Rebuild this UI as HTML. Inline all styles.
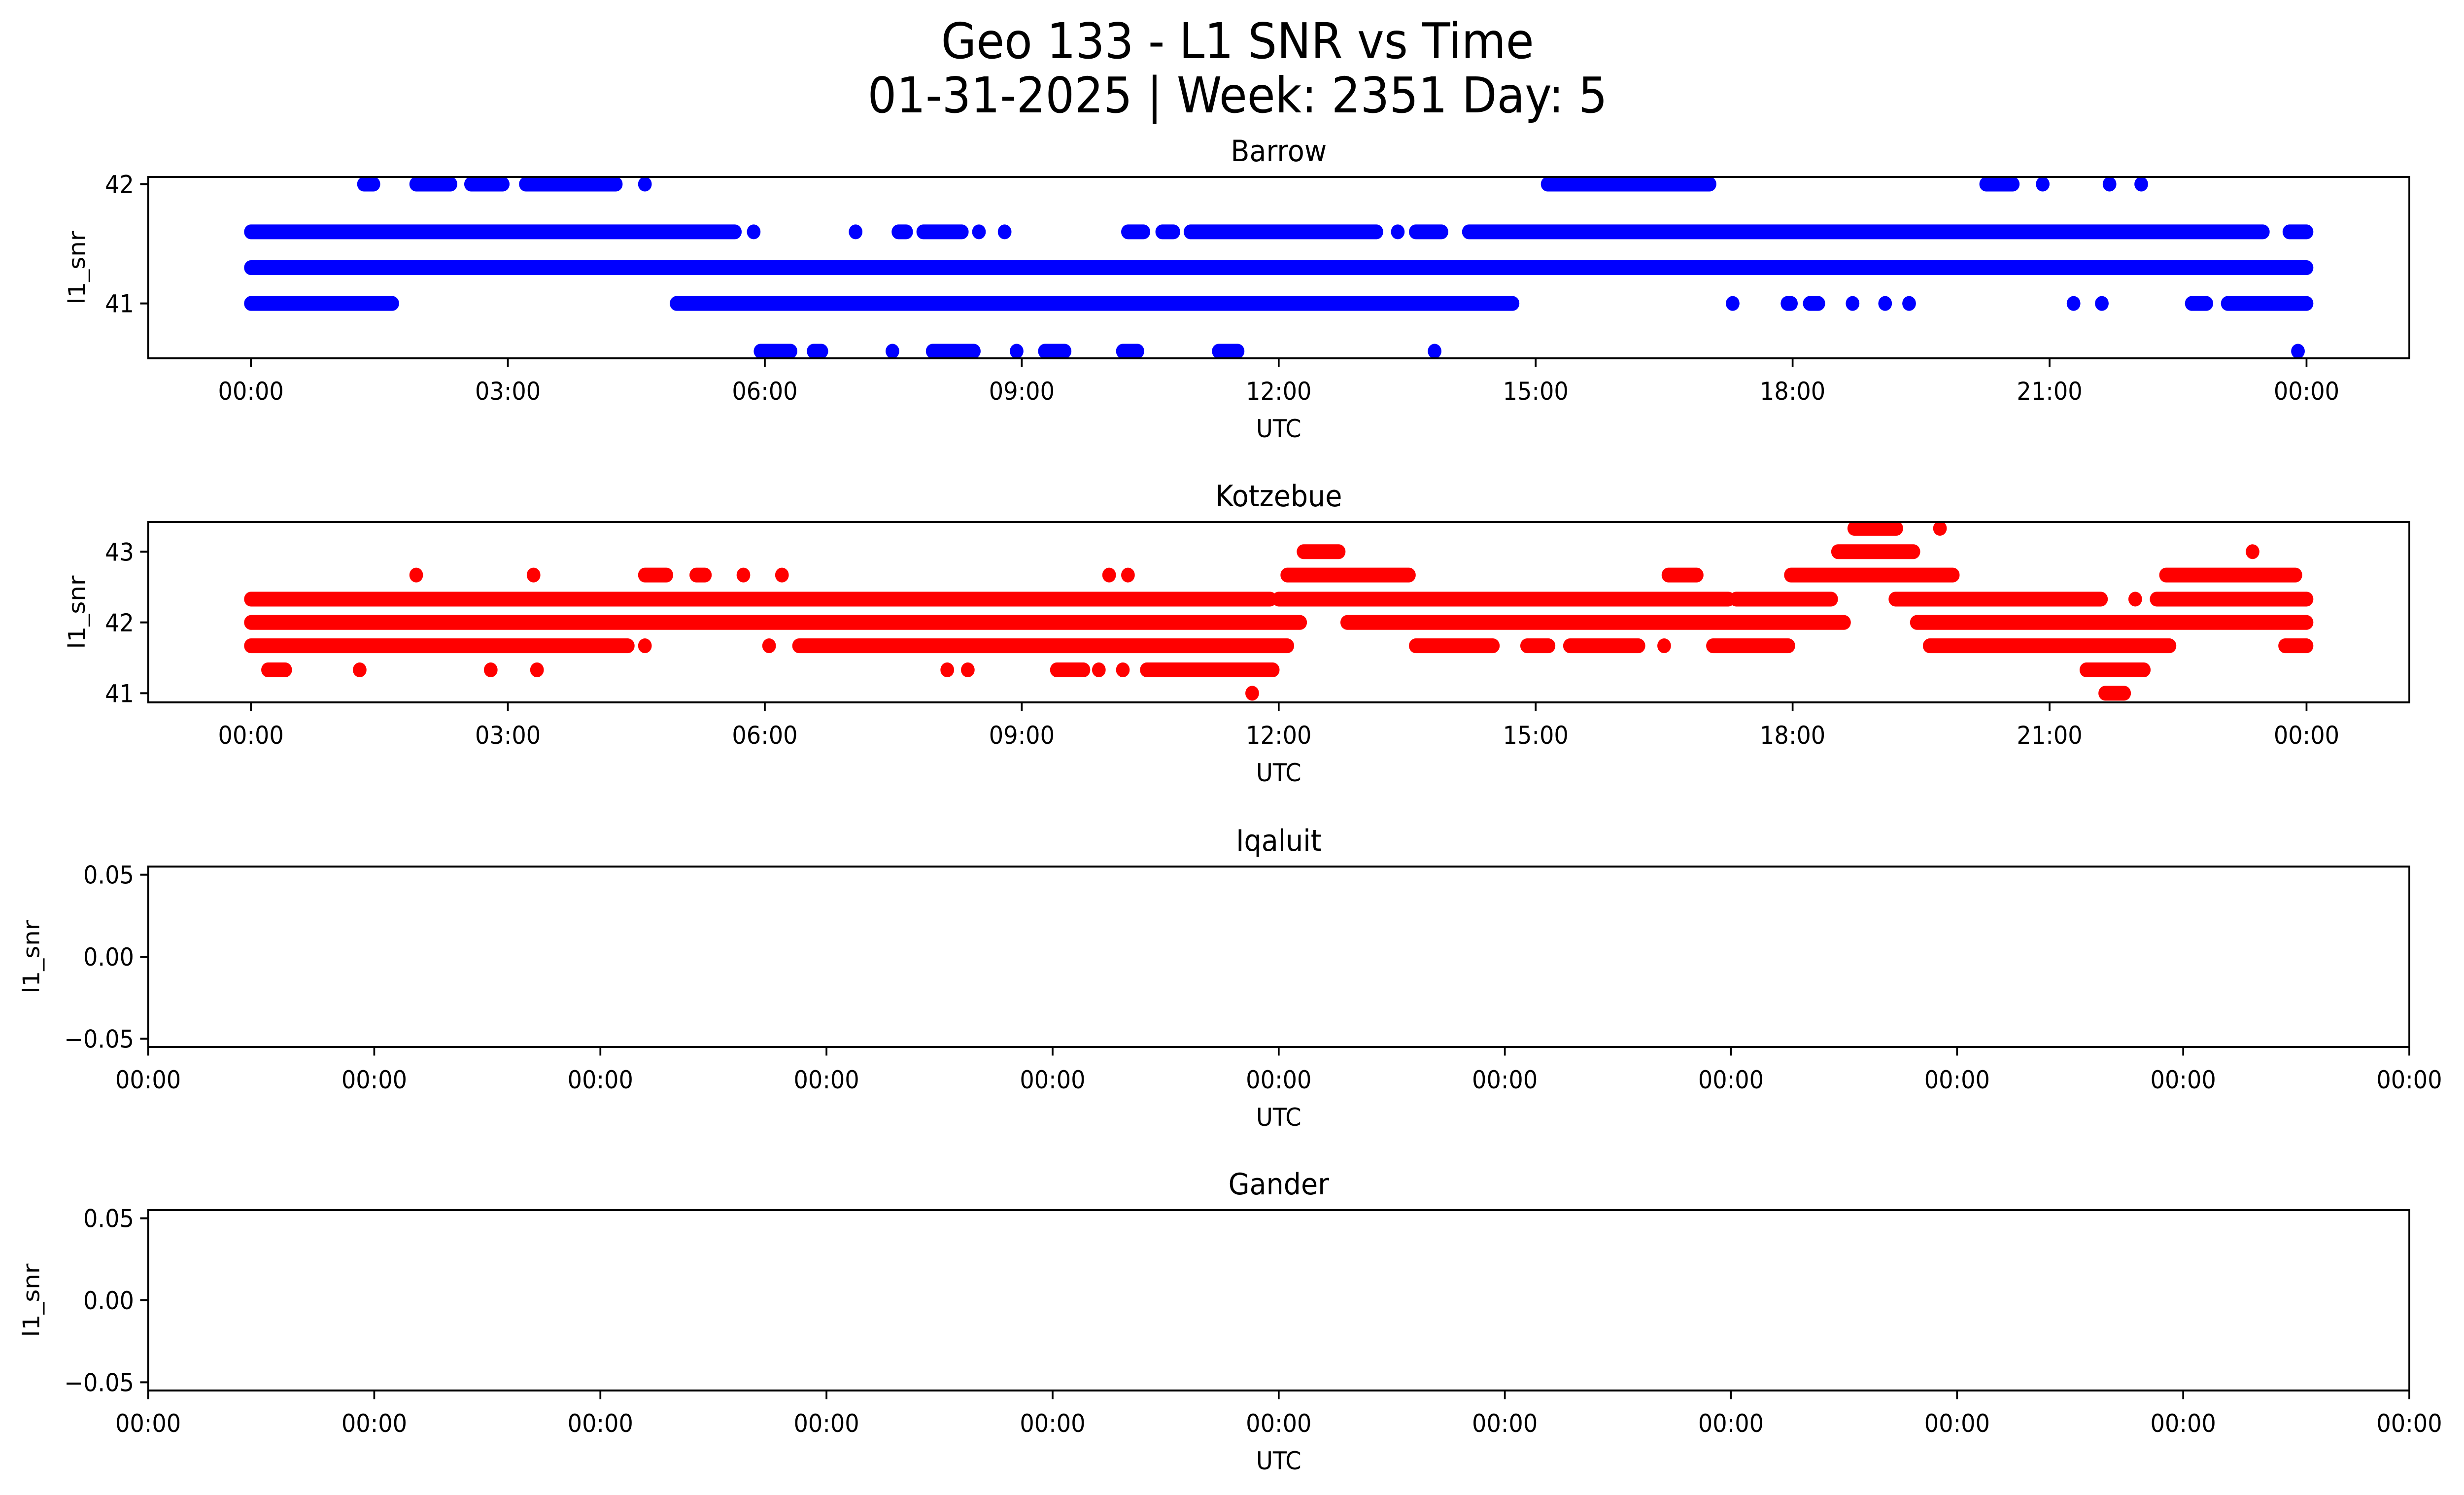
<!DOCTYPE html>
<html><head><meta charset="utf-8"><style>
html,body{margin:0;padding:0;background:#fff;overflow:hidden;width:100vw;height:100vh;}
svg{display:block;position:fixed;left:0;top:0;width:100vw;height:100vh;font-family:"DejaVu Sans","Liberation Sans",sans-serif;}
</style></head><body>
<svg id="fig" viewBox="0 0 5406 3033" preserveAspectRatio="none" xmlns="http://www.w3.org/2000/svg">
<rect width="5406" height="3033" fill="#fff"/>
<text x="2715" y="118" font-size="100" text-anchor="middle">Geo 133 - L1 SNR vs Time</text>
<text x="2715" y="228" font-size="100" text-anchor="middle">01-31-2025 | Week: 2351 Day: 5</text>
</svg>
<script>
// ---- data (hours UTC, runs of consecutive samples [start,end]) ----
const barrowLevels = [42.0, 41.6, 41.3, 41.0, 40.6];
const barrow_42_0 = [[1.32,1.43],[1.93,2.33],[2.57,2.94],[3.21,4.26],[4.6,4.6],[15.14,17.03],[20.26,20.57],[20.92,20.92],[21.7,21.7],[22.07,22.07]];
const barrow_41_6 = [[0,5.65],[5.87,5.87],[7.06,7.06],[7.56,7.65],[7.85,8.3],[8.5,8.5],[8.8,8.8],[10.24,10.42],[10.64,10.77],[10.97,13.14],[13.39,13.39],[13.6,13.9],[14.22,23.49],[23.8,24]];
const barrow_41_3 = [[0,24]];
const barrow_41_0 = [[0,1.65],[4.97,14.73],[17.3,17.3],[17.94,17.98],[18.2,18.3],[18.7,18.7],[19.08,19.08],[19.36,19.36],[21.28,21.28],[21.61,21.61],[22.66,22.83],[23.08,24]];
const barrow_40_6 = [[5.95,6.3],[6.57,6.66],[7.49,7.49],[7.96,8.44],[8.94,8.94],[9.27,9.5],[10.18,10.35],[11.3,11.52],[13.82,13.82],[23.9,23.9]];
const barrowSeries = [barrow_42_0, barrow_41_6, barrow_41_3, barrow_41_0, barrow_40_6];

const kotzLevels = [43.33, 43.0, 42.67, 42.33, 42.0, 41.67, 41.33, 41.0];
const kotz_43_33 = [[18.72,19.21],[19.72,19.72]];
const kotz_43_0 = [[12.29,12.7],[18.53,19.41],[23.37,23.37]];
const kotz_42_67 = [[1.93,1.93],[3.3,3.3],[4.6,4.85],[5.2,5.3],[5.75,5.75],[6.2,6.2],[10.02,10.02],[10.24,10.24],[12.1,13.52],[16.55,16.88],[17.98,19.87],[22.36,23.87]];
const kotz_42_33 = [[0,11.9],[12.0,17.25],[17.34,18.45],[19.2,21.6],[22.0,22.0],[22.25,24]];
const kotz_42_0 = [[0,12.25],[12.8,18.6],[19.45,24]];
const kotz_41_67 = [[0,4.4],[4.6,4.6],[6.05,6.05],[6.4,12.1],[13.6,14.5],[14.9,15.15],[15.4,16.2],[16.5,16.5],[17.07,17.95],[19.6,22.4],[23.75,24]];
const kotz_41_33 = [[0.2,0.4],[1.27,1.27],[2.8,2.8],[3.34,3.34],[8.13,8.13],[8.37,8.37],[9.41,9.72],[9.9,9.9],[10.18,10.18],[10.46,11.93],[21.43,22.1]];
const kotz_41_0 = [[11.69,11.69],[21.65,21.87]];
const kotzSeries = [kotz_43_33, kotz_43_0, kotz_42_67, kotz_42_33, kotz_42_0, kotz_41_67, kotz_41_33, kotz_41_0];

const timeTickHours = [0,3,6,9,12,15,18,21,24];
const timeTickLabels = ["00:00","03:00","06:00","09:00","12:00","15:00","18:00","21:00","00:00"];
const barrowYTicks = [41, 42];
const kotzYTicks = [41, 42, 43];
const emptyYTicks = [-0.05, 0, 0.05];
const emptyYLabels = ["\u22120.05","0.00","0.05"];
const emptyXTicks = [0,0.1,0.2,0.3,0.4,0.5,0.6,0.7,0.8,0.9,1.0];

// ---- layout ----
const NS = "http://www.w3.org/2000/svg";
const svg = document.getElementById('fig');
const L = 325, R = 5286;
const panels = [
  {name:'barrow', title:'Barrow', top:359, bot:727, ymin:40.54, ymax:42.06, color:'#0000ff', levels:barrowLevels, series:barrowSeries, yt:barrowYTicks},
  {name:'kotzebue', title:'Kotzebue', top:1059, bot:1425, ymin:40.87, ymax:43.42, color:'#ff0000', levels:kotzLevels, series:kotzSeries, yt:kotzYTicks},
  {name:'iqaluit', title:'Iqaluit', top:1758, bot:2124, empty:true},
  {name:'gander', title:'Gander', top:2455, bot:2821, empty:true}
];
function el(tag, attrs, parent){
  const e = document.createElementNS(NS, tag);
  for (const k in attrs) e.setAttribute(k, attrs[k]);
  (parent||svg).appendChild(e);
  return e;
}
const tmin = -1.2, tmax = 25.2;
function xScale(h){ return L + (h - tmin) / (tmax - tmin) * (R - L); }

panels.forEach(p => {
  const g = el('g', {});
  
  
  const yS = v => p.empty ? p.bot - (v + 0.055) / 0.11 * (p.bot - p.top) : p.bot - (v - p.ymin) / (p.ymax - p.ymin) * (p.bot - p.top);
  if (!p.empty) {
    const dg = el('g', {}, g);
    
    
    p.series.forEach((runs, i) => {
      const y = yS(p.levels[i]);
      runs.forEach(r => {
        const ln = el('line', {x1:xScale(r[0]), x2:xScale(r[1]), y1:y, y2:y, stroke:p.color, 'stroke-width':30, 'stroke-linecap':'round'}, dg);
        
        
      });
    });
  }
  const fr = el('rect', {x:L, y:p.top, width:R-L, height:p.bot-p.top, fill:'none', stroke:'#000', 'stroke-width':4}, g);
  
  
  const t = el('text', {x:(L+R)/2, y:p.top-32, 'font-size':60, 'text-anchor':'middle'}, g);
  t.textContent = p.title;
  
  
  const yvals = p.empty ? emptyYTicks : p.yt;
  yvals.forEach((v, i) => {
    const y = yS(v);
    el('line', {x1:L-17.5, x2:L, y1:y, y2:y, stroke:'#000', 'stroke-width':4}, g);
    const tl = el('text', {x:L-31, y:y+18, 'font-size':50, 'text-anchor':'end'}, g);
    tl.textContent = p.empty ? emptyYLabels[i] : String(v);
    
    
  });
  if (p.empty) {
    emptyXTicks.forEach(f => {
      const x = L + f * (R - L);
      el('line', {x1:x, x2:x, y1:p.bot, y2:p.bot+17.5, stroke:'#000', 'stroke-width':4}, g);
      const tl = el('text', {x:x, y:p.bot+84, 'font-size':50, 'text-anchor':'middle'}, g);
      tl.textContent = '00:00';
      
      
    });
  } else {
    timeTickHours.forEach((h, i) => {
      const x = xScale(h);
      el('line', {x1:x, x2:x, y1:p.bot, y2:p.bot+17.5, stroke:'#000', 'stroke-width':4}, g);
      const tl = el('text', {x:x, y:p.bot+84, 'font-size':50, 'text-anchor':'middle'}, g);
      tl.textContent = timeTickLabels[i];
      
      
    });
  }
  const xl = el('text', {x:(L+R)/2, y:p.bot+160, 'font-size':50, 'text-anchor':'middle'}, g);
  xl.textContent = 'UTC';
  
  
  const yx = p.empty ? 86 : 186, yc = (p.top + p.bot) / 2;
  const yl = el('text', {x:yx, y:yc, 'font-size':50, 'text-anchor':'middle', transform:'rotate(-90 '+yx+' '+yc+')'}, g);
  yl.textContent = 'l1_snr';
  
  
});
</script>
</body></html>
